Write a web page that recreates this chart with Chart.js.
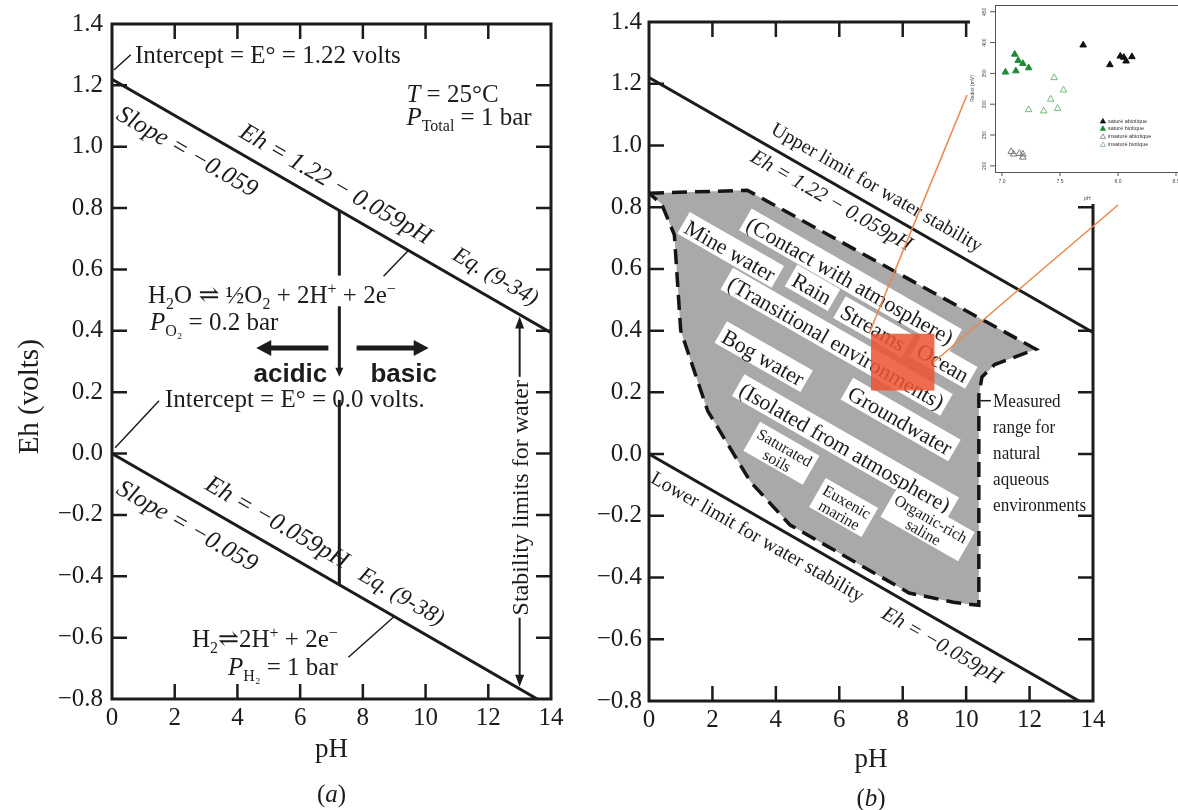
<!DOCTYPE html>
<html><head><meta charset="utf-8">
<script src="https://cdn.jsdelivr.net/npm/chart.js@4.4.1/dist/chart.umd.min.js"></script>
<style>
html,body{margin:0;padding:0;background:#fff;overflow:hidden;width:1178px;height:810px;position:relative;}
canvas{position:absolute;display:block;}
#ca{left:0;top:0;}
#cb{left:580px;top:0;}
#ci{left:970px;top:0;}
#ov{left:0;top:0;pointer-events:none;}
</style></head><body>
<canvas id="ca" width="580" height="810" style="width:580px;height:810px"></canvas>
<canvas id="cb" width="598" height="810" style="width:598px;height:810px"></canvas>
<canvas id="ci" width="230" height="204" style="width:230px;height:204px"></canvas>
<canvas id="ov" width="1178" height="810" style="width:1178px;height:810px"></canvas>
<script>
// ---------------- data ----------------
const xTickValues = [0, 2, 4, 6, 8, 10, 12, 14];
const yTickValues = [-0.8, -0.6, -0.4, -0.2, 0.0, 0.2, 0.4, 0.6, 0.8, 1.0, 1.2, 1.4];
const lineEndsPH = [0, 14];
const upperLimitEh = [1.22, 0.394];   // Eh = 1.22 - 0.059 pH
const lowerLimitEh = [0.0, -0.826];   // Eh = -0.059 pH
const rangePH = [0, 3.1, 12.2, 10.9, 10.5, 10.4, 10.4, 9.6, 8.2, 5.65, 4.45, 3.2, 1.85, 1.0, 0.8, 0.4, 0];
const rangeEh = [0.845, 0.855, 0.34, 0.29, 0.25, 0.19, -0.49, -0.48, -0.45, -0.30, -0.23, -0.09, 0.14, 0.40, 0.71, 0.81, 0.845];

const insetXTicks = [7.0, 7.5, 8.0, 8.5];
const insetYTicks = [200, 250, 300, 350, 400, 450];
const satAbioPH = [7.70, 7.93, 8.02, 8.05, 8.07, 8.12];
const satAbioMV = [396, 364, 378, 376, 370, 377];
const satBioPH = [7.11, 7.03, 7.14, 7.18, 7.12, 7.23];
const satBioMV = [381, 352, 371, 366, 354, 359];
const insAbioPH = [7.08, 7.10, 7.15, 7.18, 7.18];
const insAbioMV = [223, 219, 220, 219, 214];
const insBioPH = [7.23, 7.36, 7.42, 7.45, 7.48, 7.53];
const insBioMV = [291, 289, 308, 343, 293, 323];
const insetLegend = ['saturé abiotique', 'saturé biotique', 'insaturé abiotique', 'insaturé biotique'];

// ---------------- helpers ----------------
const INK = '#1c1c1c';
const SERIF = "'Liberation Serif','DejaVu Serif',serif";
const SANS = "'Liberation Sans','DejaVu Sans',sans-serif";
Chart.defaults.font.family = SERIF;
Chart.defaults.color = INK;
const pts = (xs, ys) => xs.map((x, i) => ({x, y: ys[i]}));
const fmtEh = v => v.toFixed(1).replace('-', '\u2212');

function segFont(s, size) {
  const sz = (s.sub || s.sup) ? Math.round(size * 0.62) : size;
  return (s.it ? 'italic ' : '') + (s.b ? 'bold ' : '') + sz + 'px ' + (s.fam || SERIF);
}
function toSegs(t) { return typeof t === 'string' ? [{t}] : t; }
function richWidth(ctx, segs, size) {
  let w = 0;
  for (const s of segs) { ctx.font = segFont(s, size); w += ctx.measureText(s.t).width; }
  return w;
}
function drawRich(ctx, t, x, y, size, align) {
  const segs = toSegs(t);
  const w = richWidth(ctx, segs, size);
  let cx = align === 'left' ? x : align === 'right' ? x - w : x - w / 2;
  const by = y + size * 0.34;
  ctx.textAlign = 'left'; ctx.textBaseline = 'alphabetic';
  for (const s of segs) {
    ctx.font = segFont(s, size);
    const dy = s.sub ? size * 0.24 : s.sup ? -size * 0.36 : 0;
    ctx.fillText(s.t, cx, by + dy);
    cx += ctx.measureText(s.t).width;
  }
}
function textAt(ctx, t, x, y, size, opt = {}) {
  ctx.save();
  ctx.translate(x, y);
  if (opt.rot) ctx.rotate(opt.rot);
  if (opt.sx) ctx.scale(opt.sx, 1);
  const lines = (Array.isArray(t) && typeof t[0] === 'string') ? t : [t];
  const lh = size * (opt.lh || 1.0);
  if (opt.box) {
    const w = Math.max(...lines.map(l => richWidth(ctx, toSegs(l), size)));
    const h = lh * lines.length + 3;
    ctx.fillStyle = '#fff';
    ctx.fillRect(-w / 2 - 4, -h / 2 - 1, w + 8, h);
  }
  ctx.fillStyle = opt.color || INK;
  lines.forEach((l, i) => drawRich(ctx, l, 0, (i - (lines.length - 1) / 2) * lh, size, opt.align || 'center'));
  ctx.restore();
}
function seg(ctx, x1, y1, x2, y2, w, col) {
  ctx.save(); ctx.strokeStyle = col || INK; ctx.lineWidth = w; ctx.lineCap = 'butt';
  ctx.beginPath(); ctx.moveTo(x1, y1); ctx.lineTo(x2, y2); ctx.stroke(); ctx.restore();
}
function arrow(ctx, x1, y1, x2, y2, w, hl, hw) {
  const a = Math.atan2(y2 - y1, x2 - x1);
  const bx = x2 - hl * Math.cos(a), by = y2 - hl * Math.sin(a);
  seg(ctx, x1, y1, bx + Math.cos(a), by + Math.sin(a), w);
  ctx.save(); ctx.fillStyle = INK; ctx.beginPath();
  ctx.moveTo(x2, y2);
  ctx.lineTo(bx + hw * Math.sin(a), by - hw * Math.cos(a));
  ctx.lineTo(bx - hw * Math.sin(a), by + hw * Math.cos(a));
  ctx.closePath(); ctx.fill(); ctx.restore();
}
function frameTicks(chart, len) {
  const {ctx, chartArea: a, scales: {x, y}} = chart;
  ctx.save(); ctx.strokeStyle = INK;
  ctx.lineWidth = 2.5;
  x.ticks.forEach(t => {
    const X = x.getPixelForValue(t.value);
    if (X <= a.left + 2 || X >= a.right - 2) return;
    ctx.beginPath(); ctx.moveTo(X, a.bottom); ctx.lineTo(X, a.bottom - len);
    ctx.moveTo(X, a.top); ctx.lineTo(X, a.top + len); ctx.stroke();
  });
  y.ticks.forEach(t => {
    const Y = y.getPixelForValue(t.value);
    if (Y <= a.top + 2 || Y >= a.bottom - 2) return;
    ctx.beginPath(); ctx.moveTo(a.left, Y); ctx.lineTo(a.left + len, Y);
    ctx.moveTo(a.right, Y); ctx.lineTo(a.right - len, Y); ctx.stroke();
  });
  ctx.lineWidth = 3;
  ctx.strokeRect(a.left, a.top, a.right - a.left, a.bottom - a.top);
  ctx.restore();
}
function baseScales(yWidth, xHeight, titleX, titleXPad) {
  return {
    x: {
      type: 'linear', min: 0, max: 14,
      afterBuildTicks: s => { s.ticks = xTickValues.map(v => ({value: v})); },
      afterFit: s => { s.height = xHeight; },
      grid: {display: false, drawTicks: false}, border: {display: false},
      ticks: {font: {family: SERIF, size: 25}, color: INK, padding: 4, autoSkip: false, maxRotation: 0, callback: v => String(v)},
      title: {display: true, text: titleX, font: {family: SERIF, size: 27}, color: INK, padding: {top: 0, bottom: titleXPad}}
    },
    y: {
      type: 'linear', min: -0.8, max: 1.4,
      afterBuildTicks: s => { s.ticks = yTickValues.map(v => ({value: v})); },
      afterFit: s => { s.width = yWidth; },
      grid: {display: false, drawTicks: false}, border: {display: false},
      ticks: {font: {family: SERIF, size: 25}, color: INK, padding: yWidth > 100 ? 9 : 7, autoSkip: false, callback: v => fmtEh(v)},
      title: {display: false}
    }
  };
}
function limitDatasets() {
  return [
    {data: pts(lineEndsPH, upperLimitEh), showLine: true, borderColor: INK, borderWidth: 3, pointRadius: 0, clip: 0, order: 1},
    {data: pts(lineEndsPH, lowerLimitEh), showLine: true, borderColor: INK, borderWidth: 3, pointRadius: 0, clip: 0, order: 1}
  ];
}

// ---------------- chart (a) ----------------
const annotA = {
  id: 'annotA',
  afterDatasetsDraw(chart) {
    const ctx = chart.ctx;
    const X = v => chart.scales.x.getPixelForValue(v), Y = v => chart.scales.y.getPixelForValue(v);
    frameTicks(chart, 15);
    const ang = Math.atan2(Y(-0.059) - Y(0), X(1) - X(0));
    const on = (u, p, off) => { const eh = u ? 1.22 - 0.059 * p : -0.059 * p; return [X(p) + off * Math.sin(ang), Y(eh) - off * Math.cos(ang)]; };
    let q;
    // axis title
    textAt(ctx, 'Eh (volts)', 28, Y(0.185), 29, {rot: -Math.PI / 2});
    // upper line
    textAt(ctx, 'Intercept = E\u00b0 = 1.22 volts', X(0.73), Y(1.30), 25, {align: 'left'});
    seg(ctx, X(0.06), Y(1.25), X(0.6), Y(1.30), 1.5);
    textAt(ctx, [{t: 'T', it: true}, {t: ' = 25\u00b0C'}], X(9.39), Y(1.172), 25, {align: 'left'});
    textAt(ctx, [{t: 'P', it: true}, {t: 'Total', sub: true}, {t: ' = 1 bar'}], X(9.39), Y(1.098), 25, {align: 'left'});
    q = on(true, 6.8, 22); textAt(ctx, [{t: 'Eh = 1.22 \u2212 0.059pH', it: true}], q[0], q[1], 25, {rot: ang});
    q = on(true, 2.8, -24); textAt(ctx, [{t: 'Slope = \u22120.059', it: true}], q[0], q[1], 25, {rot: ang});
    q = on(true, 11.9, 22); textAt(ctx, [{t: 'Eq. (9-34)', it: true}], q[0], q[1], 23, {rot: ang});
    seg(ctx, X(8.66), Y(0.578), X(9.45), Y(0.662), 1.5);
    textAt(ctx, [{t: 'H'}, {t: '2', sub: true}, {t: 'O \u21cc '}, {t: '\u00bd'}, {t: 'O'}, {t: '2', sub: true}, {t: ' + 2H'}, {t: '+', sup: true}, {t: ' + 2e'}, {t: '\u2212', sup: true}], X(1.15), Y(0.519), 25, {align: 'left'});
    textAt(ctx, [{t: 'P', it: true}, {t: 'O\u2082', sub: true}, {t: ' = 0.2 bar'}], X(1.21), Y(0.431), 25, {align: 'left'});
    // vertical divider at neutral pH
    seg(ctx, X(7.25), Y(0.792), X(7.25), Y(0.58), 3);
    arrow(ctx, X(7.25), Y(0.48), X(7.25), Y(0.25), 3, 9, 4);
    seg(ctx, X(7.25), Y(0.175), X(7.25), Y(-0.428), 3);
    arrow(ctx, X(6.9), Y(0.344), X(4.6), Y(0.344), 5, 15, 8);
    arrow(ctx, X(7.8), Y(0.344), X(10.1), Y(0.344), 5, 15, 8);
    textAt(ctx, [{t: 'acidic', b: true, fam: SANS}], X(5.69), Y(0.263), 26);
    textAt(ctx, [{t: 'basic', b: true, fam: SANS}], X(9.3), Y(0.263), 26);
    // lower line
    textAt(ctx, 'Intercept = E\u00b0 = 0.0 volts.', X(1.69), Y(0.181), 25, {align: 'left'});
    seg(ctx, X(0.1), Y(0.019), X(1.5), Y(0.172), 1.5);
    q = on(false, 4.9, 24); textAt(ctx, [{t: 'Eh = \u22120.059pH', it: true}], q[0], q[1], 25, {rot: ang});
    q = on(false, 2.8, -24); textAt(ctx, [{t: 'Slope = \u22120.059', it: true}], q[0], q[1], 25, {rot: ang});
    q = on(false, 8.9, 22); textAt(ctx, [{t: 'Eq. (9-38)', it: true}], q[0], q[1], 23, {rot: ang});
    textAt(ctx, [{t: 'H'}, {t: '2', sub: true}, {t: '\u21cc2H'}, {t: '+', sup: true}, {t: ' + 2e'}, {t: '\u2212', sup: true}], X(7.2), Y(-0.602), 25, {align: 'right'});
    textAt(ctx, [{t: 'P', it: true}, {t: 'H\u2082', sub: true}, {t: ' = 1 bar'}], X(7.2), Y(-0.693), 25, {align: 'right'});
    seg(ctx, X(7.54), Y(-0.664), X(9.0), Y(-0.531), 1.5);
    // stability limits
    textAt(ctx, 'Stability limits for water', X(13.0), Y(-0.144), 24, {rot: -Math.PI / 2});
    arrow(ctx, X(13.0), Y(0.25), X(13.0), Y(0.447), 2, 12, 4.5);
    arrow(ctx, X(13.0), Y(-0.535), X(13.0), Y(-0.76), 2, 12, 4.5);
    textAt(ctx, [{t: '('}, {t: 'a', it: true}, {t: ')'}], X(7.0), chart.chartArea.bottom + 94, 25);
  }
};
const chartA = new Chart(document.getElementById('ca'), {
  type: 'scatter',
  data: {datasets: limitDatasets()},
  options: {
    responsive: false, animation: false, events: [],
    layout: {padding: {left: 0, top: 22, right: 29, bottom: 0}},
    plugins: {legend: {display: false}, tooltip: {enabled: false}},
    scales: baseScales(112, 111, 'pH', 44)
  },
  plugins: [annotA]
});

// ---------------- chart (b) ----------------
const boxLabels = [
  ['(Contact with atmosphere)', 6.34, 0.562],
  ['Mine water', 2.56, 0.659],
  ['Rain', 5.14, 0.536],
  ['Streams', 7.07, 0.410],
  ['Ocean', 9.27, 0.296],
  ['(Transitional environments)', 5.90, 0.361],
  ['Bog water', 3.60, 0.313],
  ['Groundwater', 7.92, 0.109],
  ['(Isolated from atmosphere)', 6.18, 0.021]
];
const smallLabels = [
  [['Saturated', 'soils'], 4.16, 0.0],
  [['Euxenic', 'marine'], 6.12, -0.176],
  [['Organic-rich', 'saline'], 8.77, -0.231]
];
const measuredLines = ['Measured', 'range for', 'natural', 'aqueous', 'environments'];
const annotB = {
  id: 'annotB',
  afterDatasetsDraw(chart) {
    const ctx = chart.ctx;
    const X = v => chart.scales.x.getPixelForValue(v), Y = v => chart.scales.y.getPixelForValue(v);
    frameTicks(chart, 15);
    const ang = Math.atan2(Y(-0.059) - Y(0), X(1) - X(0));
    const on = (u, p, off) => { const eh = u ? 1.22 - 0.059 * p : -0.059 * p; return [X(p) + off * Math.sin(ang), Y(eh) - off * Math.cos(ang)]; };
    let q;
    q = on(true, 6.9, 19); textAt(ctx, 'Upper limit for water stability', q[0], q[1], 20, {rot: ang});
    q = on(true, 6.0, -15); textAt(ctx, [{t: 'Eh = 1.22 \u2212 0.059pH', it: true}], q[0], q[1], 21, {rot: ang});
    q = on(false, 3.7, -17); textAt(ctx, 'Lower limit for water stability', q[0], q[1], 20, {rot: ang});
    q = on(false, 9.56, -19); textAt(ctx, [{t: 'Eh = \u22120.059pH', it: true}], q[0], q[1], 21, {rot: ang});
    boxLabels.forEach(([t, p, e]) => textAt(ctx, t, X(p), Y(e), 22, {rot: ang, box: true}));
    smallLabels.forEach(([t, p, e]) => textAt(ctx, t, X(p), Y(e), 16, {rot: ang, box: true, lh: 0.95}));
    // measured-range note
    seg(ctx, X(10.45), Y(0.173), X(10.78), Y(0.173), 1.5);
    const lh = Y(0) - Y(0.0845);
    measuredLines.forEach((t, i) => textAt(ctx, t, X(10.85), Y(0.173) + i * lh, 19, {align: 'left', sx: 0.9}));
    // highlighted zoom box
    ctx.save(); ctx.fillStyle = 'rgba(238,84,52,0.86)';
    ctx.fillRect(X(7.0), Y(0.39), X(9.0) - X(7.0), Y(0.206) - Y(0.39));
    ctx.restore();
    textAt(ctx, [{t: '('}, {t: 'b', it: true}, {t: ')'}], (chart.chartArea.left + chart.chartArea.right) / 2, chart.chartArea.bottom + 96, 25);
  }
};
const chartB = new Chart(document.getElementById('cb'), {
  type: 'scatter',
  data: {datasets: [
    {data: pts(rangePH, rangeEh), showLine: true, fill: 'shape', backgroundColor: '#a9a9a9', borderColor: '#151515', borderWidth: 3.5, borderDash: [15, 8], pointRadius: 0, tension: 0, clip: 0, order: 3},
    ...limitDatasets()
  ]},
  options: {
    responsive: false, animation: false, events: [],
    layout: {padding: {left: 0, top: 21, right: 85, bottom: 0}},
    plugins: {legend: {display: false}, tooltip: {enabled: false}},
    scales: baseScales(69, 109, 'pH', 34)
  },
  plugins: [annotB]
});

// ---------------- inset scatter ----------------
const insetStyles = [
  {bg: '#111111', bd: '#111111'},
  {bg: '#1f8a36', bd: '#1f8a36'},
  {bg: 'rgba(255,255,255,0)', bd: '#7a7a7a'},
  {bg: 'rgba(255,255,255,0)', bd: '#78bb78'}
];
const insetDeco = {
  id: 'insetDeco',
  beforeDraw(chart) { const c = chart.ctx; c.save(); c.fillStyle = '#fff'; c.fillRect(0, 0, chart.width, chart.height); c.restore(); },
  afterDatasetsDraw(chart) {
    const {ctx, chartArea: a} = chart;
    const X = v => chart.scales.x.getPixelForValue(v), Y = v => chart.scales.y.getPixelForValue(v);
    ctx.save();
    ctx.strokeStyle = '#555'; ctx.lineWidth = 1;
    ctx.strokeRect(a.left + 0.5, a.top + 0.5, a.right - a.left, a.bottom - a.top);
    ctx.fillStyle = '#444';
    ctx.font = '5px ' + SANS; ctx.textAlign = 'center'; ctx.textBaseline = 'middle';
    insetXTicks.forEach(v => {
      ctx.beginPath(); ctx.moveTo(X(v), a.bottom); ctx.lineTo(X(v), a.bottom + 4); ctx.stroke();
      ctx.fillText(v.toFixed(1), X(v), a.bottom + 10);
    });
    insetYTicks.forEach(v => {
      ctx.beginPath(); ctx.moveTo(a.left - 5, Y(v)); ctx.lineTo(a.left, Y(v)); ctx.stroke();
      ctx.save(); ctx.translate(a.left - 10, Y(v)); ctx.rotate(-Math.PI / 2); ctx.fillText(String(v), 0, 0); ctx.restore();
    });
    ctx.fillText('pH', (a.left + a.right) / 2 - 4, a.bottom + 27);
    ctx.save(); ctx.translate(a.left - 22, (a.top + a.bottom) / 2); ctx.rotate(-Math.PI / 2); ctx.fillText('Redox (mV)', 0, 0); ctx.restore();
    // legend
    const legY = [272, 260, 247, 234];
    ctx.textAlign = 'left'; ctx.font = '5.5px ' + SANS; ctx.fillStyle = '#333';
    insetLegend.forEach((t, i) => {
      ctx.save(); ctx.fillStyle = insetStyles[i].bg; ctx.strokeStyle = insetStyles[i].bd; ctx.lineWidth = 0.8;
      Chart.helpers.drawPoint(ctx, {pointStyle: 'triangle', radius: 3, rotation: 0, borderWidth: 0.8}, X(7.87), Y(legY[i]));
      ctx.restore();
      ctx.fillText(t, X(7.87) + 5, Y(legY[i]));
    });
    ctx.restore();
  }
};
const insetData = [[satAbioPH, satAbioMV], [satBioPH, satBioMV], [insAbioPH, insAbioMV], [insBioPH, insBioMV]];
const chartI = new Chart(document.getElementById('ci'), {
  type: 'scatter',
  data: {datasets: insetData.map((d, i) => ({
    label: insetLegend[i], data: pts(d[0], d[1]), pointStyle: 'triangle', pointRadius: 3.8, borderWidth: 1,
    backgroundColor: insetStyles[i].bg, borderColor: insetStyles[i].bd
  }))},
  options: {
    responsive: false, animation: false, events: [],
    layout: {padding: {left: 0, top: 5, right: 12.4, bottom: 0}},
    plugins: {legend: {display: false}, tooltip: {enabled: false}},
    scales: {
      x: {type: 'linear', min: 6.94, max: 8.6, afterFit: s => { s.height = 32; }, grid: {display: false}, border: {display: false}, ticks: {display: false}},
      y: {type: 'linear', min: 190, max: 461, afterFit: s => { s.width = 25; }, grid: {display: false}, border: {display: false}, ticks: {display: false}}
    }
  },
  plugins: [insetDeco]
});

// ---------------- connector lines (b box -> inset) ----------------
(function () {
  const ctx = document.getElementById('ov').getContext('2d');
  const bx = v => 580 + chartB.scales.x.getPixelForValue(v), by = v => chartB.scales.y.getPixelForValue(v);
  const ix = v => 970 + chartI.scales.x.getPixelForValue(v), iy = v => chartI.scales.y.getPixelForValue(v);
  ctx.strokeStyle = '#ec8a4c'; ctx.lineWidth = 1.6;
  ctx.beginPath(); ctx.moveTo(bx(7.0) - 2, by(0.39)); ctx.lineTo(ix(6.94) - 28, iy(315)); ctx.stroke();
  ctx.beginPath(); ctx.moveTo(bx(9.0), by(0.30)); ctx.lineTo(ix(8.0), chartI.chartArea.bottom + 33); ctx.stroke();
})();
</script>
</body></html>
